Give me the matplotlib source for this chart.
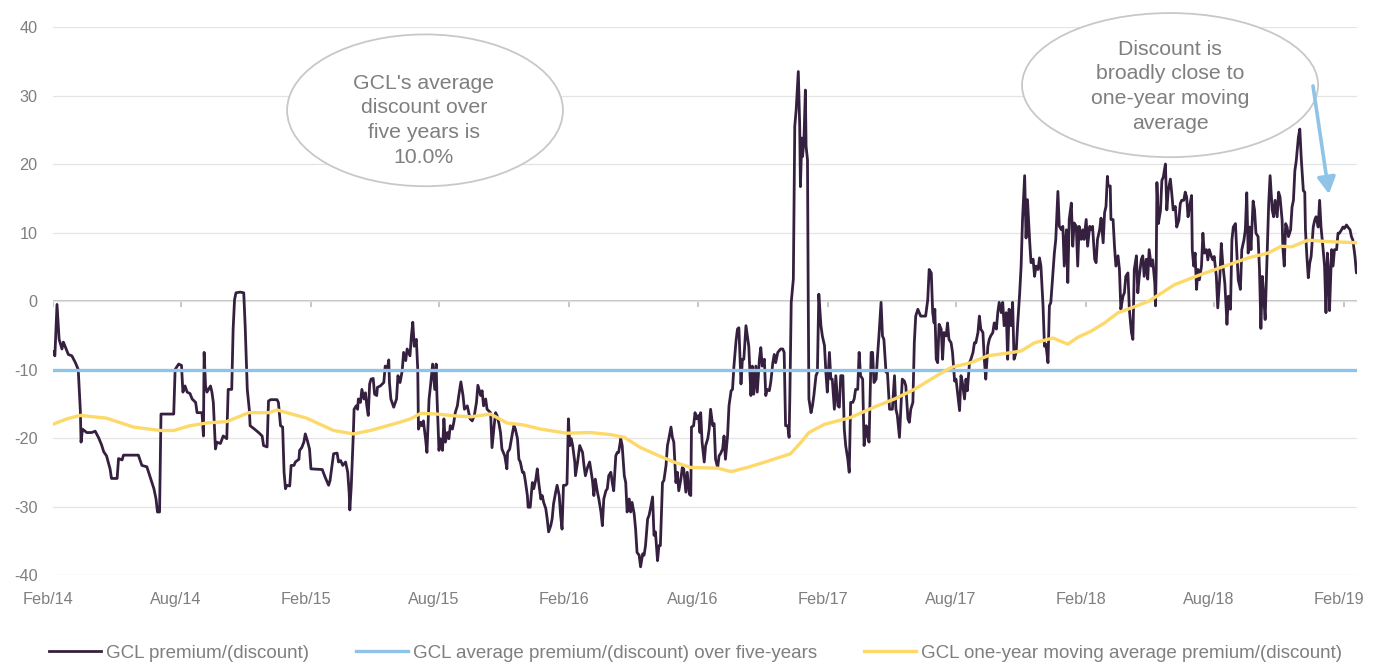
import matplotlib.pyplot as plt
from matplotlib.patches import Ellipse
from matplotlib.transforms import ScaledTranslation
import pandas as pd

plt.rcParams['font.family'] = ['Liberation Sans', 'DejaVu Sans']
plt.rcParams['axes.unicode_minus'] = False

START = pd.Timestamp('2014-02-01')
END_DAY = 1844

# GCL premium/(discount) in % (day offset from 1 Feb 2014)
prem_days = [
    0, 3, 6, 9, 13, 15, 17, 22, 27, 32, 36, 39, 40, 42, 48, 55, 60, 65, 69, 72,
    76, 81, 83, 91, 93, 98, 100, 121, 126, 133, 137, 140, 143, 146, 148, 151, 153, 171, 173, 178,
    182, 184, 187, 190, 194, 197, 202, 204, 211, 213, 214, 216, 218, 223, 225, 227, 230, 232, 237, 241,
    246, 248, 253, 255, 257, 259, 265, 270, 272, 275, 278, 279, 284, 291, 296, 298, 303, 305,
    308, 317, 319, 322, 325, 327, 329, 331, 335, 337, 341, 343, 348, 349, 352, 355, 357, 360, 363, 365,
    381, 385, 390, 392, 397, 402, 404, 407, 410, 414, 417, 419, 420, 422, 425, 426, 429, 431, 432, 435,
    437, 440, 442, 444, 446, 448, 450, 453, 455, 458, 459, 463, 468, 470, 473, 475, 476, 478, 482, 486,
    488, 491, 494, 496, 499, 501, 505, 507, 509, 511, 514, 516, 517, 520, 522, 524, 527, 529, 532, 534,
    537, 540, 542, 543, 546, 548, 551, 553, 555, 558, 560, 562, 565, 567, 569, 572, 574, 577, 580, 582,
    586, 590, 593, 596, 599, 601, 605, 607, 609, 612, 614, 616,
    619, 621, 624, 626, 628, 631, 633, 635, 639, 642, 643, 646, 650, 652, 654, 657, 659, 661, 664, 666,
    668, 671, 672, 675, 678, 680, 683, 685, 687, 690, 692, 694, 697, 699, 701, 704, 706, 708, 711, 713,
    716, 718, 720, 722, 725, 727, 729, 731, 733, 735, 738, 739, 742, 745, 749, 751, 753, 756, 759, 763,
    765, 767, 770, 772, 775, 777, 779, 782, 784, 786, 789, 791, 793, 796, 798, 800, 803, 805, 808, 810,
    812, 815, 817, 819, 822, 824, 826, 829, 831, 834, 836, 838, 841, 843, 845, 848, 850, 852, 855, 857,
    859, 862, 864, 867, 869, 871, 874, 876, 878, 881, 883, 885, 888, 890, 892, 895, 897, 900, 902, 903,
    906, 908, 910, 913, 915,
    916, 918, 921, 923, 926, 928, 930, 933, 935, 937, 940, 942, 944, 947, 949, 951, 954, 956, 959, 961,
    963, 966, 968, 970, 973, 975, 977, 980, 982, 984, 987, 989, 991, 994, 996, 999, 1001, 1003, 1006, 1008,
    1010, 1013, 1015, 1018, 1020, 1022, 1025, 1029, 1032, 1034, 1036, 1039, 1041, 1042, 1044, 1047, 1049, 1051, 1054, 1056,
    1057, 1059, 1060, 1062, 1064, 1065, 1067, 1068, 1069, 1072, 1074, 1076, 1079, 1081, 1083, 1086, 1088, 1091, 1093, 1095,
    1098, 1100, 1102, 1105, 1107, 1110, 1112, 1114, 1117, 1119, 1121, 1124, 1126, 1128, 1131, 1133, 1135, 1138, 1140, 1142,
    1145, 1147, 1150, 1152, 1154, 1157, 1159, 1161, 1164, 1166, 1168, 1171, 1173, 1175, 1178, 1180, 1183, 1185, 1187, 1190,
    1192, 1194, 1197, 1199, 1201, 1204, 1206, 1209, 1211, 1213, 1216, 1218, 1220, 1223, 1227, 1234, 1237, 1239,
    1242, 1244, 1246, 1247, 1249, 1251, 1253, 1256, 1258, 1260, 1263, 1265, 1267, 1270, 1272, 1275, 1277, 1279, 1282, 1284,
    1286, 1289, 1291, 1293, 1296, 1298, 1301, 1303, 1305, 1308, 1310, 1312, 1315, 1317, 1319, 1322, 1324, 1326, 1329, 1331,
    1334, 1336, 1338, 1341, 1343, 1345, 1348, 1350, 1352, 1355, 1357, 1359, 1362, 1364, 1367, 1369, 1371, 1374, 1376, 1378,
    1381, 1383, 1386, 1388, 1390, 1393, 1395, 1397, 1400, 1402, 1404, 1407, 1409, 1411, 1414, 1416, 1418, 1421, 1423, 1426,
    1428, 1430, 1433, 1435, 1437, 1440, 1442, 1444, 1447, 1449, 1451, 1454, 1456, 1458, 1461, 1463, 1466, 1468, 1470, 1473,
    1475, 1477, 1480, 1482, 1485, 1487, 1489, 1491, 1492, 1495, 1496, 1499, 1501, 1503, 1506, 1508, 1510, 1513, 1515, 1517,
    1520, 1522, 1525, 1527, 1529, 1532, 1534, 1536, 1539, 1541, 1543, 1546, 1548, 1550,
    1553, 1555, 1558, 1559, 1560, 1561, 1563, 1566, 1568, 1570, 1573, 1575, 1577, 1580, 1582, 1584, 1587, 1589, 1592, 1594,
    1596, 1599, 1601, 1603, 1605, 1607, 1610, 1611, 1613, 1615, 1617, 1619, 1621, 1624, 1626, 1628, 1631, 1633, 1635, 1638,
    1640, 1642, 1645, 1647, 1650, 1652, 1654, 1657, 1659, 1660, 1662, 1665, 1667, 1669, 1672, 1674, 1676, 1679, 1681, 1684,
    1686, 1688, 1690, 1692, 1694, 1697, 1699, 1701, 1704, 1706, 1708, 1710, 1712, 1714, 1717, 1719, 1721, 1724, 1726, 1728,
    1731, 1733, 1735, 1738, 1739, 1741, 1743, 1745, 1747, 1750, 1752, 1754, 1756, 1758, 1761, 1763, 1765, 1768, 1770, 1771,
    1773, 1775, 1777, 1779, 1782, 1784, 1786, 1789, 1791, 1793, 1796, 1798, 1800, 1802, 1804, 1805, 1808, 1810, 1812, 1815,
    1817, 1819, 1822, 1824, 1826, 1829, 1831, 1834, 1836, 1838, 1841, 1843, 1844,
]
prem_vals = [
    -7.4, -8.0, -0.5, -5.6, -7.0, -6.0, -6.5, -7.8, -8.0, -9.0, -10.0, -16.0, -20.6, -18.7, -19.2, -19.2, -19.0, -20.0, -21.0, -22.0,
    -22.6, -24.5, -25.9, -25.9, -23.0, -23.2, -22.5, -22.5, -24.0, -24.2, -25.5, -26.5, -27.4, -28.9, -30.8, -30.8, -16.5, -16.5, -10.0, -9.2,
    -9.4, -13.3, -12.4, -13.3, -13.5, -14.3, -14.8, -16.3, -16.3, -19.7, -7.5, -12.4, -13.3, -12.4, -13.3, -14.8, -21.6, -20.6, -20.8, -19.7,
    -20.1, -12.9, -12.9, -4.1, 0.2, 1.2, 1.3, 1.2, -3.6, -12.9, -16.0, -18.2, -18.6, -19.2, -19.7, -21.1, -21.3, -14.6,
    -14.4, -14.4, -14.8, -18.2, -18.4, -25.0, -27.4, -26.9, -27.0, -24.0, -24.0, -23.5, -23.1, -21.8, -21.4, -20.6, -19.4, -20.4, -21.6, -24.5,
    -24.6, -25.7, -26.9, -26.2, -22.3, -22.2, -23.5, -23.3, -24.0, -23.5, -25.0, -27.9, -30.5, -27.0, -19.2, -15.8, -15.3, -15.8, -14.3, -14.8,
    -12.9, -14.3, -13.4, -15.3, -16.7, -12.1, -11.4, -11.3, -13.6, -13.8, -12.6, -12.4, -11.9, -9.5, -10.0, -8.6, -11.9, -14.3, -15.5, -14.3,
    -10.9, -11.9, -10.2, -7.5, -8.7, -7.0, -8.0, -5.1, -3.1, -6.6, -5.6, -10.0, -18.7, -17.7, -18.2, -17.5, -20.1, -22.1, -14.3, -12.4,
    -9.2, -12.9, -9.2, -13.4, -21.8, -20.1, -21.8, -17.2, -20.6, -19.2, -20.1, -18.2, -18.7, -17.7, -16.3, -15.3, -13.8, -11.8, -13.8, -15.8,
    -15.3, -17.2, -17.5, -16.7, -14.8, -12.3, -13.8, -13.1, -15.3, -14.3, -15.8, -16.0,
    -16.3, -21.4, -18.2, -16.3, -16.7, -18.0, -19.2, -21.6, -22.6, -24.5, -22.1, -21.6, -19.2, -18.2, -18.7, -20.1, -23.1, -23.5, -25.0, -25.0,
    -26.2, -28.4, -30.1, -30.1, -26.5, -27.4, -26.0, -24.5, -26.5, -28.9, -28.4, -29.4, -30.3, -31.8, -33.7, -32.8, -31.8, -29.6, -27.9, -26.9,
    -28.4, -31.3, -33.3, -26.9, -26.9, -26.7, -17.2, -21.1, -20.1, -21.1, -23.5, -25.5, -23.5, -21.1, -22.1, -24.0, -25.5, -24.3, -23.5, -26.2,
    -28.4, -26.0, -27.9, -28.9, -30.8, -32.8, -28.9, -27.7, -27.4, -25.5, -25.0, -26.5, -27.7, -22.6, -22.1, -22.1, -20.1, -21.1, -25.5, -26.5,
    -30.8, -28.9, -30.8, -29.4, -31.1, -33.3, -36.7, -37.1, -38.8, -36.9, -37.1, -35.7, -31.8, -31.3, -30.3, -28.6, -34.2, -33.7, -37.9, -35.7,
    -35.7, -26.5, -26.2, -24.0, -21.1, -20.1, -18.4, -19.9, -20.6, -26.5, -25.0, -27.7, -26.0, -24.3, -24.5, -27.9, -25.0, -28.2, -28.4, -18.4,
    -18.2, -16.3, -17.2, -16.7, -19.2,
    -16.3, -20.6, -23.5, -21.1, -20.1, -18.7, -15.8, -18.2, -17.9, -23.1, -24.3, -22.6, -22.3, -21.6, -19.7, -23.1, -19.7, -15.3, -13.1, -12.9,
    -9.5, -5.8, -4.1, -3.9, -12.1, -8.5, -8.5, -3.6, -5.1, -6.6, -13.8, -9.5, -13.6, -9.5, -13.3, -8.5, -6.8, -9.5, -8.5, -13.8,
    -12.9, -13.1, -11.9, -9.0, -7.8, -9.0, -7.5, -7.0, -7.0, -7.5, -18.2, -18.2, -19.9, -14.3, -0.2, 3.2, 25.5, 27.9, 33.5, 25.5,
    16.7, 23.8, 21.1, 23.5, 30.8, 22.6, 20.6, 1.2, -14.3, -16.3, -15.3, -13.8, -10.9, -10.4, 1.0, -3.6, -5.1, -6.5, -10.4, -13.3,
    -7.5, -11.4, -11.4, -15.8, -10.9, -15.3, -15.5, -10.9, -10.9, -18.7, -21.1, -23.1, -25.0, -14.8, -14.8, -14.3, -12.9, -12.9, -7.5, -10.9,
    -11.4, -21.1, -18.2, -19.7, -20.6, -7.5, -7.5, -11.9, -11.4, -8.0, -5.1, -0.2, -5.1, -5.6, -10.4, -10.4, -15.8, -15.8, -15.8, -10.9,
    -15.8, -16.7, -19.9, -15.8, -11.4, -11.7, -12.4, -17.2, -17.7, -15.8, -14.8, -6.1, -2.2, -1.2, -2.2, -2.2, 0.2, 4.6,
    4.1, -1.7, -3.2, -1.2, -8.5, -9.0, -3.4, -4.1, -8.5, -4.6, -5.1, -3.2, -5.6, -6.1, -7.5, -11.7, -11.4, -13.3, -16.0, -10.9,
    -11.9, -14.3, -11.4, -13.1, -9.0, -8.5, -7.5, -6.1, -6.1, -4.6, -2.2, -4.1, -4.6, -8.5, -11.4, -6.6, -5.6, -5.1, -4.6, -3.2,
    -4.1, -1.7, -0.2, -1.7, -0.2, -3.6, -1.7, -8.5, -1.2, -3.6, -0.2, -8.5, -7.5, -3.6, 1.2, 5.1, 11.9, 18.3, 9.2, 14.8,
    8.9, 5.6, 6.1, 3.6, 5.1, 4.6, 6.3, 5.1, -0.7, -6.6, -6.3, -9.0, -0.7, -0.2, 4.1, 7.0, 9.0, 16.0, 10.9, 10.4,
    10.9, 5.1, 10.4, 2.7, 11.9, 14.3, 8.0, 11.4, 10.9, 5.1, 10.9, 9.0, 10.4, 9.0, 11.9, 8.0, 10.9, 10.4, 10.9, 6.1,
    5.6, 9.0, 10.4, 12.1, 8.5, 12.9, 13.8, 18.2, 16.8, 16.8, 11.9, 11.9, 8.0, 5.1, 6.6, 4.6, -1.2, 0.7, 1.2, 3.6,
    4.1, -1.2, -4.6, -5.6, 4.6, 6.6, 1.2, 3.6, 6.1, 6.6, 3.6, 6.1, 3.2, 7.5,
    5.1, 6.0, 2.6, -0.7, 4.6, 17.3, 11.3, 13.2, 17.6, 18.1, 20.0, 13.3, 16.1, 17.8, 15.7, 13.3, 13.8, 10.8, 11.8, 14.2,
    14.7, 14.7, 15.9, 15.2, 12.3, 13.7, 15.4, 7.5, 5.1, 7.0, 1.7, 4.6, 3.1, 5.1, 9.9, 7.0, 7.5, 6.0, 7.5, 6.5,
    6.0, 6.5, 3.6, -1.0, 3.6, 8.4, 5.5, 2.6, -1.2, -3.4, 0.7, -1.2, 8.9, 10.8, 11.3, 7.0, 3.1, 1.7, 7.5, 8.9,
    10.4, 15.8, 7.0, 10.8, 7.5, 14.6, 13.3, 9.9, 9.4, 4.6, -4.0, 3.6, 0.7, -2.7, 7.5, 14.2, 18.3, 13.3, 12.3, 14.7,
    12.3, 15.9, 15.2, 11.8, 7.9, 5.1, 11.3, 10.8, 9.4, 10.4, 13.7, 14.7, 19.0, 20.5, 23.9, 25.1, 20.9, 16.1, 15.9, 10.4,
    6.5, 3.4, 5.5, 6.5, 10.8, 11.8, 12.3, 10.8, 14.7, 10.8, 7.5, 5.1, -1.7, 7.0, 3.6, -1.4, 7.5, 5.1, 7.5, 7.5,
    9.9, 9.9, 10.4, 10.8, 10.6, 11.1, 10.8, 10.4, 9.4, 8.9, 6.5, 4.1, 5.1,
]

# one-year moving average premium/(discount)
ma_days = [0, 20, 39, 76, 114, 152, 171, 194, 218, 246, 258, 277, 305, 317, 359, 397, 425, 449, 487, 506,
           520, 543, 572, 591, 619, 642, 666, 690, 727, 760, 789, 808, 831, 855, 878, 902, 940, 959, 982, 1010,
           1043, 1058, 1069, 1091, 1128, 1161, 1190, 1218, 1253, 1270, 1298, 1322, 1350, 1369, 1388, 1414, 1435, 1449, 1468, 1487,
           1506, 1525, 1550, 1586, 1624, 1657, 1690, 1718, 1737, 1751, 1775, 1798, 1822, 1844]
ma_vals = [-18.0, -17.2, -16.7, -17.1, -18.4, -18.9, -18.9, -18.2, -17.8, -17.6, -17.1, -16.3, -16.3, -15.9, -17.1, -18.9, -19.4, -18.9, -17.8, -17.2,
           -16.4, -16.5, -16.8, -16.9, -16.5, -17.8, -18.1, -18.7, -19.3, -19.2, -19.5, -19.9, -21.4, -22.5, -23.5, -24.3, -24.4, -24.9, -24.3, -23.4,
           -22.3, -20.6, -19.2, -18.0, -17.0, -15.5, -14.3, -12.9, -10.7, -9.7, -9.0, -8.0, -7.6, -7.3, -6.1, -5.4, -6.3, -5.3, -4.4, -3.2,
           -1.7, -1.0, 0.0, 2.4, 3.9, 5.1, 6.3, 7.0, 8.0, 7.9, 8.9, 8.7, 8.6, 8.5]

five_year_avg = -10.0

tick_labels = ['Feb/14', 'Aug/14', 'Feb/15', 'Aug/15', 'Feb/16', 'Aug/16',
               'Feb/17', 'Aug/17', 'Feb/18', 'Aug/18', 'Feb/19']
series_labels = ['GCL premium/(discount)',
                 'GCL average premium/(discount) over five-years',
                 'GCL one-year moving average premium/(discount)']

GREY = '#7f7f7f'
DARK = '#35203f'
BLUE = '#8fc4e8'
YELLOW = '#fdd96a'

prem_dates = START + pd.to_timedelta(prem_days, unit='D')
ma_dates = START + pd.to_timedelta(ma_days, unit='D')
tick_dates = pd.date_range('2014-02-01', '2019-02-01', freq='6MS')
x0, x1 = START, START + pd.Timedelta(days=END_DAY)

fig = plt.figure(figsize=(13.74, 6.64), dpi=100)
ax = fig.add_axes([0.0384, 0.134, 0.9493, 0.8253])

l1, = ax.plot(prem_dates, prem_vals, color=DARK, lw=2.0, zorder=3)
l2, = ax.plot([x0, x1], [five_year_avg, five_year_avg], color=BLUE, lw=2.4, zorder=4)
l3, = ax.plot(ma_dates, ma_vals, color=YELLOW, lw=2.4, zorder=5)

ax.set_xlim(x0, x1)
ax.set_ylim(-40, 40)
ax.set_yticks(range(-40, 41, 10))
ax.grid(axis='y', color='#e4e4e4', lw=0.9, zorder=0)
ax.axhline(0, color='#bcbcbc', lw=1.3, zorder=1)
# small tick marks on the zero axis line
ax.plot(tick_dates, [0] * len(tick_dates), linestyle='none', marker=3,
        markersize=4, color='#bcbcbc', mew=1.2, zorder=1)

ax.set_xticks(tick_dates)
ax.set_xticklabels(tick_labels)
ax.tick_params(axis='both', length=0, labelsize=11.7, labelcolor=GREY)
ax.tick_params(axis='y', pad=11)
ax.tick_params(axis='x', pad=12)
shift = ScaledTranslation(-5 / 100, 0, fig.dpi_scale_trans)
for lab in ax.get_xticklabels():
    lab.set_transform(lab.get_transform() + shift)
for s in ax.spines.values():
    s.set_visible(False)

# callouts
e1 = Ellipse((0.2854, 0.848), 0.2115, 0.277, transform=ax.transAxes,
             facecolor='white', edgecolor='#c8c8c8', lw=1.3, zorder=6, clip_on=False)
e2 = Ellipse((0.8566, 0.894), 0.227, 0.263, transform=ax.transAxes,
             facecolor='white', edgecolor='#c8c8c8', lw=1.3, zorder=6, clip_on=False)
ax.add_patch(e1)
ax.add_patch(e2)
ax.text(0.2845, 0.830, "GCL's average\ndiscount over\nfive years is\n10.0%",
        transform=ax.transAxes, ha='center', va='center', fontsize=15.3,
        color=GREY, linespacing=1.38, zorder=7)
ax.text(0.8566, 0.892, "Discount is\nbroadly close to\none-year moving\naverage",
        transform=ax.transAxes, ha='center', va='center', fontsize=15.3,
        color=GREY, linespacing=1.38, zorder=7)
ax.annotate('', xy=(1329, 470), xytext=(1313, 578), xycoords='figure pixels',
            textcoords='figure pixels', zorder=8,
            arrowprops=dict(arrowstyle='-|>,head_length=1.0,head_width=0.55',
                            color=BLUE, lw=2.6, shrinkA=0, shrinkB=0))

fig.legend([l1, l2, l3], series_labels, loc='center', bbox_to_anchor=(0.506, 11 / 664),
           ncol=3, frameon=False, fontsize=13.5, handlelength=2.8, handletextpad=0.25,
           columnspacing=2.5, labelcolor=GREY)

fig.savefig('out.png', dpi=100)
